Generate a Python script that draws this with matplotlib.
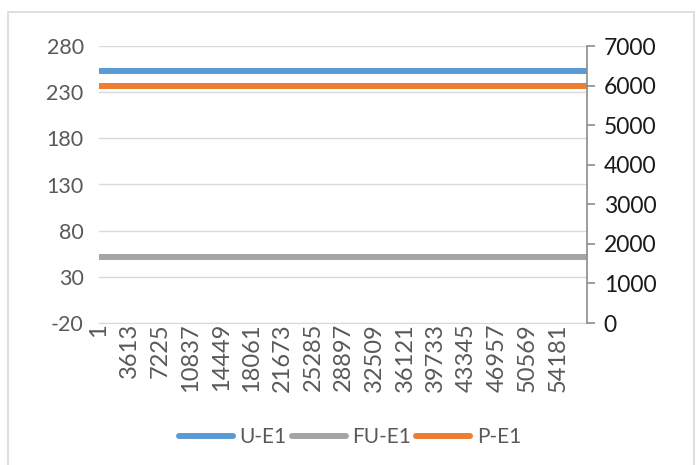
import matplotlib.pyplot as plt
from matplotlib.patches import Rectangle

# data (constant series over the sample index)
x_range = [1, 57600]
u_e1 = [253, 253]
fu_e1 = [52, 52]
p_e1 = [6000, 6000]

x_ticks = [1, 3613, 7225, 10837, 14449, 18061, 21673, 25285, 28897,
           32509, 36121, 39733, 43345, 46957, 50569, 54181]
left_ticks = [-20, 30, 80, 130, 180, 230, 280]
right_ticks = [0, 1000, 2000, 3000, 4000, 5000, 6000, 7000]

plt.rcParams['font.family'] = ['Lato', 'DejaVu Sans']
plt.rcParams['axes.unicode_minus'] = False

fig = plt.figure(figsize=(6.97, 4.65), dpi=100)
ax = fig.add_axes([99 / 697, 1 - 323 / 465, (587 - 99) / 697, (323 - 46) / 465])
ax2 = ax.twinx()

l1, = ax.plot(x_range, u_e1, color='#5B9BD5', lw=4.3, solid_capstyle='butt', label='U-E1')
l2, = ax.plot(x_range, fu_e1, color='#A5A5A5', lw=4.3, solid_capstyle='butt', label='FU-E1')
l3, = ax2.plot(x_range, p_e1, color='#ED7D31', lw=4.3, solid_capstyle='butt', label='P-E1')

ax.set_xlim(x_range[0], x_range[1])
ax.set_ylim(-20, 280)
ax.set_yticks(left_ticks)
ax2.set_ylim(0, 7000)
ax2.set_yticks(right_ticks)

ax.set_xticks(x_ticks)
ax.set_xticklabels([str(t) for t in x_ticks], rotation=90)
ax.grid(axis='y', color='#D9D9D9', lw=1)
ax.set_axisbelow(True)

for s in ['top', 'left', 'right']:
    ax.spines[s].set_visible(False)
ax.spines['bottom'].set_color('#D9D9D9')
for s in ['top', 'left', 'bottom']:
    ax2.spines[s].set_visible(False)
ax2.spines['right'].set_color('#8C8C8C')
ax2.spines['right'].set_linewidth(1.2)

ax.tick_params(axis='y', length=0, pad=11, labelsize=15.5, labelcolor='#595959')
ax.tick_params(axis='x', length=0, pad=0, labelsize=17, labelcolor='#595959')
ax2.tick_params(axis='y', length=6, width=1.2, color='#8C8C8C', pad=6,
                labelsize=16.5, labelcolor='#1a1a1a')

fig.legend(handles=[l1, l2, l3], loc='center', bbox_to_anchor=(350 / 697, 1 - 437 / 465),
           ncol=3, frameon=False, fontsize=15, handlelength=2.6, handletextpad=0.3,
           columnspacing=0.25, labelcolor='#595959')
for h in fig.legends[0].get_lines():
    h.set_solid_capstyle('round')

# chart frame
fig.patches.append(Rectangle((8 / 697, -0.01), 686 / 697, 1 - 12 / 465 + 0.01,
                             transform=fig.transFigure, fill=False,
                             edgecolor='#D9D9D9', lw=1.2))

fig.savefig('out.png', dpi=100)
